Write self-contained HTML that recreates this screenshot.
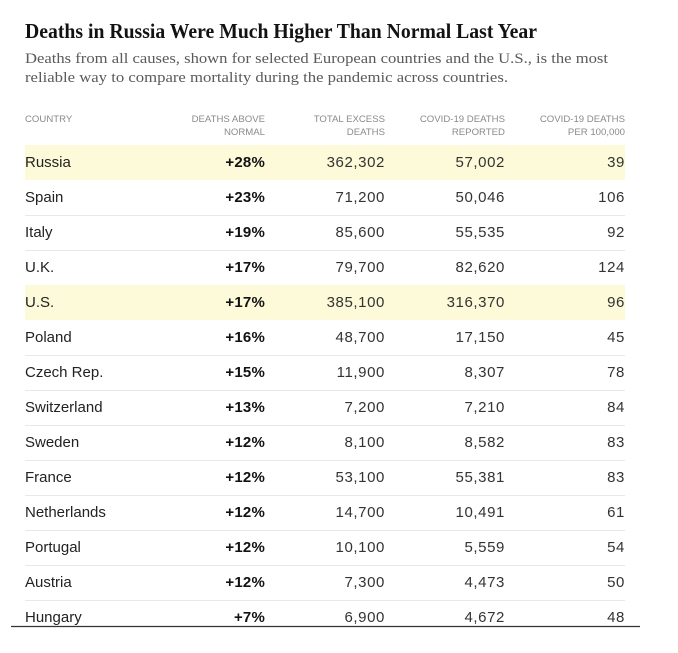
<!DOCTYPE html>
<html>
<head>
<meta charset="utf-8">
<style>
  html,body{margin:0;padding:0;background:#fff;}
  svg{display:block;}
  .t{font-family:"Liberation Serif",serif;font-weight:bold;fill:#121212;font-size:21px;}
  .s{font-family:"Liberation Serif",serif;fill:#5a5a5a;font-size:15px;}
  .h{font-family:"Liberation Sans",sans-serif;fill:#8a8a8a;font-size:9.6px;}
  .c{font-family:"Liberation Sans",sans-serif;fill:#222;font-size:15px;}
  .p{font-family:"Liberation Sans",sans-serif;fill:#121212;font-size:15px;font-weight:bold;text-anchor:end;letter-spacing:0.2px;}
  .n{font-family:"Liberation Sans",sans-serif;fill:#333;font-size:15px;text-anchor:end;letter-spacing:0.6px;}
  .he{text-anchor:end;}
</style>
</head>
<body>
<svg width="678" height="653" viewBox="0 0 678 653" xmlns="http://www.w3.org/2000/svg">
  <rect width="678" height="653" fill="#fff"/>
  <text class="t" x="25" y="38" textLength="512" lengthAdjust="spacingAndGlyphs">Deaths in Russia Were Much Higher Than Normal Last Year</text>
  <text class="s" x="25" y="63" textLength="583" lengthAdjust="spacingAndGlyphs">Deaths from all causes, shown for selected European countries and the U.S., is the most</text>
  <text class="s" x="25" y="82" textLength="483" lengthAdjust="spacingAndGlyphs">reliable way to compare mortality during the pandemic across countries.</text>

  <!-- header -->
  <text class="h" x="25" y="122">COUNTRY</text>
  <text class="h he" x="265" y="122">DEATHS ABOVE</text>
  <text class="h he" x="265" y="135">NORMAL</text>
  <text class="h he" x="385" y="122">TOTAL EXCESS</text>
  <text class="h he" x="385" y="135">DEATHS</text>
  <text class="h he" x="505" y="122">COVID-19 DEATHS</text>
  <text class="h he" x="505" y="135">REPORTED</text>
  <text class="h he" x="625" y="122">COVID-19 DEATHS</text>
  <text class="h he" x="625" y="135">PER 100,000</text>

  <!-- highlights -->
  <rect x="25" y="145" width="600" height="35" fill="#fcfad8"/>
  <rect x="25" y="285" width="600" height="35" fill="#fcfad8"/>

  <!-- separators -->
  <g stroke="#e8e8e8" stroke-width="1">
    <line x1="25" x2="625" y1="215.5" y2="215.5"/>
    <line x1="25" x2="625" y1="250.5" y2="250.5"/>
    <line x1="25" x2="625" y1="355.5" y2="355.5"/>
    <line x1="25" x2="625" y1="390.5" y2="390.5"/>
    <line x1="25" x2="625" y1="425.5" y2="425.5"/>
    <line x1="25" x2="625" y1="460.5" y2="460.5"/>
    <line x1="25" x2="625" y1="495.5" y2="495.5"/>
    <line x1="25" x2="625" y1="530.5" y2="530.5"/>
    <line x1="25" x2="625" y1="565.5" y2="565.5"/>
    <line x1="25" x2="625" y1="600.5" y2="600.5"/>
  </g>

  <!-- rows -->
  <g>
    <text class="c" x="25" y="167">Russia</text><text class="p" x="265" y="167">+28%</text><text class="n" x="385" y="167">362,302</text><text class="n" x="505" y="167">57,002</text><text class="n" x="625" y="167">39</text>
    <text class="c" x="25" y="202">Spain</text><text class="p" x="265" y="202">+23%</text><text class="n" x="385" y="202">71,200</text><text class="n" x="505" y="202">50,046</text><text class="n" x="625" y="202">106</text>
    <text class="c" x="25" y="237">Italy</text><text class="p" x="265" y="237">+19%</text><text class="n" x="385" y="237">85,600</text><text class="n" x="505" y="237">55,535</text><text class="n" x="625" y="237">92</text>
    <text class="c" x="25" y="272">U.K.</text><text class="p" x="265" y="272">+17%</text><text class="n" x="385" y="272">79,700</text><text class="n" x="505" y="272">82,620</text><text class="n" x="625" y="272">124</text>
    <text class="c" x="25" y="307">U.S.</text><text class="p" x="265" y="307">+17%</text><text class="n" x="385" y="307">385,100</text><text class="n" x="505" y="307">316,370</text><text class="n" x="625" y="307">96</text>
    <text class="c" x="25" y="342">Poland</text><text class="p" x="265" y="342">+16%</text><text class="n" x="385" y="342">48,700</text><text class="n" x="505" y="342">17,150</text><text class="n" x="625" y="342">45</text>
    <text class="c" x="25" y="377">Czech Rep.</text><text class="p" x="265" y="377">+15%</text><text class="n" x="385" y="377">11,900</text><text class="n" x="505" y="377">8,307</text><text class="n" x="625" y="377">78</text>
    <text class="c" x="25" y="412">Switzerland</text><text class="p" x="265" y="412">+13%</text><text class="n" x="385" y="412">7,200</text><text class="n" x="505" y="412">7,210</text><text class="n" x="625" y="412">84</text>
    <text class="c" x="25" y="447">Sweden</text><text class="p" x="265" y="447">+12%</text><text class="n" x="385" y="447">8,100</text><text class="n" x="505" y="447">8,582</text><text class="n" x="625" y="447">83</text>
    <text class="c" x="25" y="482">France</text><text class="p" x="265" y="482">+12%</text><text class="n" x="385" y="482">53,100</text><text class="n" x="505" y="482">55,381</text><text class="n" x="625" y="482">83</text>
    <text class="c" x="25" y="517">Netherlands</text><text class="p" x="265" y="517">+12%</text><text class="n" x="385" y="517">14,700</text><text class="n" x="505" y="517">10,491</text><text class="n" x="625" y="517">61</text>
    <text class="c" x="25" y="552">Portugal</text><text class="p" x="265" y="552">+12%</text><text class="n" x="385" y="552">10,100</text><text class="n" x="505" y="552">5,559</text><text class="n" x="625" y="552">54</text>
    <text class="c" x="25" y="587">Austria</text><text class="p" x="265" y="587">+12%</text><text class="n" x="385" y="587">7,300</text><text class="n" x="505" y="587">4,473</text><text class="n" x="625" y="587">50</text>
    <text class="c" x="25" y="622">Hungary</text><text class="p" x="265" y="622">+7%</text><text class="n" x="385" y="622">6,900</text><text class="n" x="505" y="622">4,672</text><text class="n" x="625" y="622">48</text>
  </g>

  <line x1="11" x2="640" y1="626.5" y2="626.5" stroke="#333" stroke-width="1.2"/>
</svg>
</body>
</html>
